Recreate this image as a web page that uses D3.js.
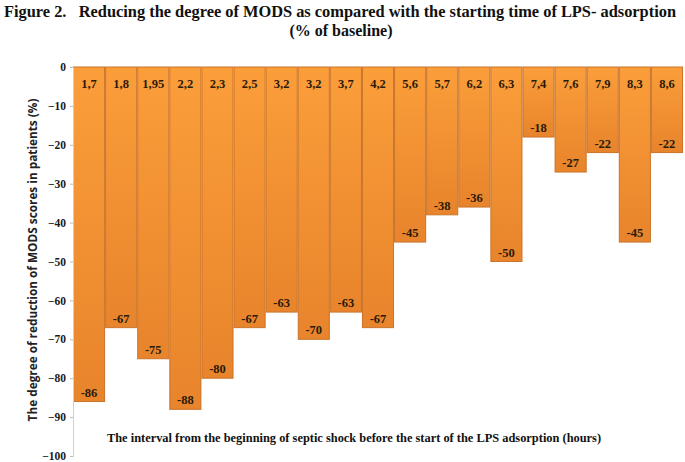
<!DOCTYPE html>
<html>
<head>
<meta charset="utf-8">
<script src="https://cdn.jsdelivr.net/npm/d3@7"></script>
<style>
  html, body { margin: 0; padding: 0; background: #fff; }
  svg { display: block; }
  .pre { white-space: pre; }
</style>
</head>
<body>
<svg id="chart" width="685" height="462"></svg>
<script>
const categories = ["1,7","1,8","1,95","2,2","2,3","2,5","3,2","3,2 ","3,7","4,2","5,6","5,7","6,2","6,3","7,4","7,6","7,9","8,3","8,6"];
const values = [-86,-67,-75,-88,-80,-67,-63,-70,-63,-67,-45,-38,-36,-50,-18,-27,-22,-45,-22];
const yTicks = [0,-10,-20,-30,-40,-50,-60,-70,-80,-90,-100];

const svg = d3.select("#chart");
const margin = {left: 73, right: 2, top: 67, bottom: 6};
const W = 685, H = 462;

const x = d3.scaleBand().domain(categories).range([margin.left, W - margin.right]).padding(0);
const y = d3.scaleLinear().domain([0, -100]).range([margin.top, H - margin.bottom]);

const defs = svg.append("defs");
const grad = defs.append("linearGradient").attr("id", "barGrad")
  .attr("x1", 0).attr("y1", 0).attr("x2", 0).attr("y2", 1);
grad.append("stop").attr("offset", "0%").attr("stop-color", "#fb9e3a");
grad.append("stop").attr("offset", "100%").attr("stop-color", "#e8842c");

const serif = "'Liberation Serif', 'Times New Roman', serif";

// Title
svg.append("text").attr("class", "pre").attr("x", 4).attr("y", 17)
  .attr("textLength", 672).attr("lengthAdjust", "spacingAndGlyphs")
  .attr("font-family", serif).attr("font-weight", "bold").attr("font-size", 16)
  .attr("fill", "#111")
  .text("Figure 2.   Reducing the degree of MODS as compared with the starting time of LPS- adsorption");
svg.append("text").attr("x", 341).attr("y", 36).attr("text-anchor", "middle")
  .attr("font-family", serif).attr("font-weight", "bold").attr("font-size", 16)
  .attr("fill", "#111")
  .text("(% of baseline)");

// Bars
svg.append("g").selectAll("rect").data(values).join("rect")
  .attr("x", (d, i) => x(categories[i]) + 0.5)
  .attr("y", y(0))
  .attr("width", x.bandwidth() - 1)
  .attr("height", d => y(d) - y(0))
  .attr("fill", "url(#barGrad)")
  .attr("stroke", "#c9742a")
  .attr("stroke-width", 1);

// Category labels
svg.append("g").selectAll("text").data(categories).join("text")
  .attr("x", d => x(d) + x.bandwidth() / 2)
  .attr("y", y(-5.3))
  .attr("text-anchor", "middle")
  .attr("font-family", serif).attr("font-weight", "bold").attr("font-size", 12.5)
  .attr("fill", "#2a1a0a")
  .text(d => d.trim());

// Value labels
svg.append("g").selectAll("text").data(values).join("text")
  .attr("x", (d, i) => x(categories[i]) + x.bandwidth() / 2)
  .attr("y", d => y(d) - 5)
  .attr("text-anchor", "middle")
  .attr("font-family", serif).attr("font-weight", "bold").attr("font-size", 12.5)
  .attr("fill", "#2a1a0a")
  .text(d => d);

// Y axis
const yAxis = d3.axisLeft(y).tickValues(yTicks).tickSize(3).tickPadding(4);
const gy = svg.append("g").attr("transform", `translate(${margin.left},0)`).call(yAxis);
gy.select(".domain").attr("stroke", "#cfcfcf");
gy.selectAll(".tick line").attr("stroke", "#bdbdbd");
gy.selectAll(".tick text")
  .attr("font-family", serif).attr("font-weight", "bold").attr("font-size", 11.5)
  .attr("fill", "#1a1a1a");

// Y axis title
svg.append("text")
  .attr("transform", "translate(37,260) rotate(-90)")
  .attr("text-anchor", "middle")
  .attr("font-family", "'Open Sans', 'DejaVu Sans', sans-serif").attr("font-weight", "bold").attr("font-size", 11.8)
  .attr("fill", "#222")
  .text("The degree of reduction of MODS scores in patients (%)");

// X axis title
svg.append("text")
  .attr("x", 354).attr("y", 442)
  .attr("text-anchor", "middle")
  .attr("font-family", serif).attr("font-weight", "bold").attr("font-size", 12.4)
  .attr("fill", "#111")
  .text("The interval from the beginning of septic shock before the start of the LPS adsorption (hours)");
</script>
</body>
</html>
